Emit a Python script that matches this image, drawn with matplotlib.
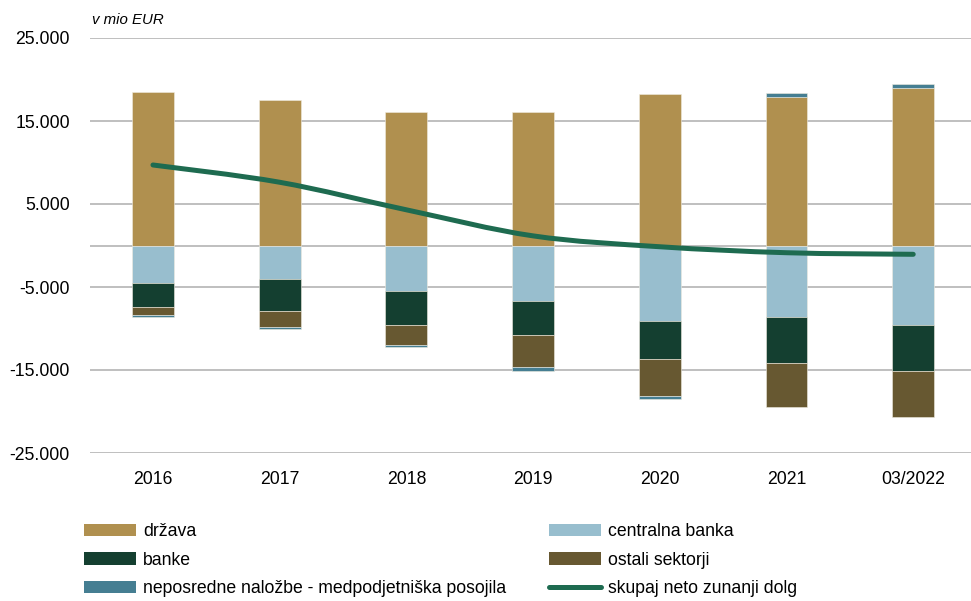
import numpy as np
import matplotlib
matplotlib.use("Agg")
import matplotlib.pyplot as plt
from matplotlib.path import Path
from matplotlib.patches import PathPatch, Patch
from matplotlib.lines import Line2D
from matplotlib.ticker import FuncFormatter

plt.rcParams["font.family"] = ["Liberation Sans", "DejaVu Sans"]

# data (mio EUR)
periods = ["2016", "2017", "2018", "2019", "2020", "2021", "03/2022"]
drzava = [18500, 17550, 16100, 16100, 18250, 17950, 18980]
centralna_banka = [-4550, -4070, -5520, -6730, -9100, -8650, -9620]
banke = [-2900, -3820, -4100, -4090, -4580, -5510, -5470]
ostali_sektorji = [-960, -1970, -2410, -3860, -4490, -5260, -5540]
neposredne_nalozbe = [-170, -200, -200, -410, -290, 480, 480]
skupaj = [9700, 7620, 4300, 1160, -150, -870, -1060]

series = [
    ("država", drzava, "#B0904F"),
    ("centralna banka", centralna_banka, "#98BECE"),
    ("banke", banke, "#143F30"),
    ("ostali sektorji", ostali_sektorji, "#675831"),
    ("neposredne naložbe - medpodjetniška posojila", neposredne_nalozbe, "#457E92"),
]
line_color = "#1E6B50"
grid_color = "#B4B4B4"
FS = 12.7


def smooth_path(xs, ys):
    # Catmull-Rom through the points, as bezier segments (like Excel's smoothed line)
    pts = np.column_stack([xs, ys]).astype(float)
    verts = [pts[0]]
    codes = [Path.MOVETO]
    n = len(pts)
    for i in range(n - 1):
        p0 = pts[max(i - 1, 0)]
        p1 = pts[i]
        p2 = pts[i + 1]
        p3 = pts[min(i + 2, n - 1)]
        c1 = p1 + (p2 - p0) / 6.0
        c2 = p2 - (p3 - p1) / 6.0
        verts += [c1, c2, p2]
        codes += [Path.CURVE4] * 3
    return Path(verts, codes)


fig = plt.figure(figsize=(9.71, 6.01), dpi=100)
ax = fig.add_axes([90 / 971, 1 - 453 / 601, 881 / 971, 415 / 601])

x = np.arange(len(periods))
pos_base = np.zeros(len(periods))
neg_base = np.zeros(len(periods))
for name, vals, color in series:
    vals = np.array(vals, dtype=float)
    base = np.where(vals >= 0, pos_base, neg_base)
    ax.bar(x, vals, width=0.33, bottom=base, color=color,
           edgecolor="#EFEBE0", linewidth=0.4, zorder=3)
    pos_base += np.where(vals >= 0, vals, 0)
    neg_base += np.where(vals < 0, vals, 0)

ax.add_patch(PathPatch(smooth_path(x, skupaj), fill=False, edgecolor=line_color,
                       linewidth=3.6, capstyle="round", joinstyle="round", zorder=4))

ax.set_xlim(-0.497, 6.456)
ax.set_ylim(-25000, 25000)
ax.set_yticks(np.arange(-25000, 25001, 10000))
ax.yaxis.set_major_formatter(FuncFormatter(lambda v, p: f"{int(v):,}".replace(",", ".")))
ax.set_xticks(x)
ax.set_xticklabels(periods)
ax.tick_params(axis="y", length=0, pad=14.5, labelsize=FS)
ax.tick_params(axis="x", length=0, pad=13, labelsize=FS)
ax.grid(axis="y", color=grid_color, linewidth=1.2, zorder=0)
ax.axhline(0, color=grid_color, linewidth=1.2, zorder=1)
for s in ax.spines.values():
    s.set_visible(False)

fig.text(92 / 971, 1 - 20 / 601, "v mio EUR", style="italic", fontsize=10.8, va="center")

handles = [Patch(facecolor=series[0][2]), Patch(facecolor=series[2][2]),
           Patch(facecolor=series[4][2]), Patch(facecolor=series[1][2]),
           Patch(facecolor=series[3][2]),
           Line2D([], [], color=line_color, linewidth=3.6, solid_capstyle="round")]
labels = [series[0][0], series[2][0], series[4][0], series[1][0], series[3][0],
          "skupaj neto zunanji dolg"]
fig.legend(handles, labels, loc="upper left", bbox_to_anchor=(84 / 971, 1 - 523 / 601),
           ncol=2, frameon=False, fontsize=FS, handlelength=2.95, handleheight=0.68,
           handletextpad=0.4, columnspacing=2.4, labelspacing=0.66,
           borderpad=0, borderaxespad=0)

fig.savefig("out.png", dpi=100)
